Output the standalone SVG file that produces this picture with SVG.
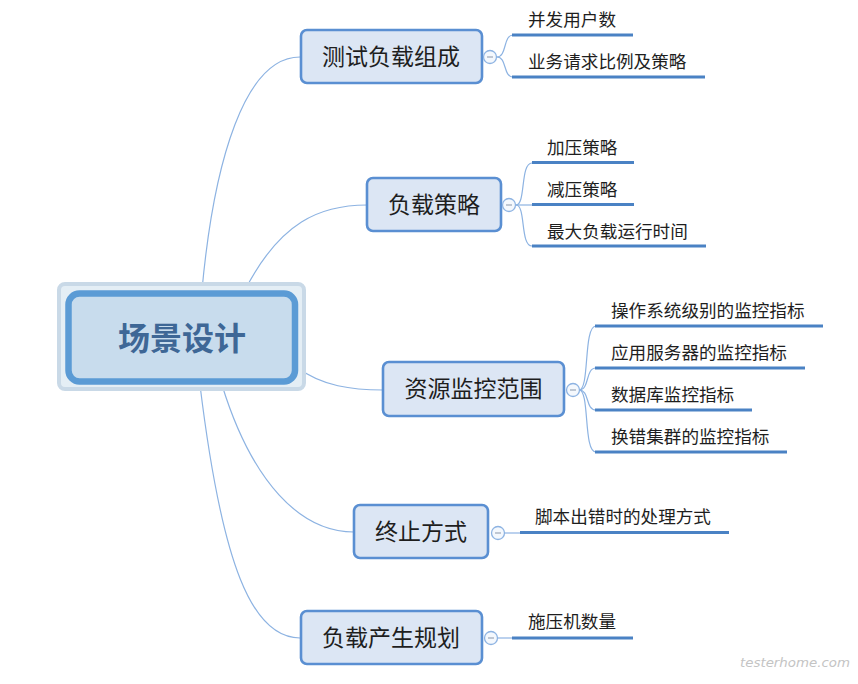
<svg xmlns="http://www.w3.org/2000/svg" width="858" height="684" viewBox="0 0 858 684">
<style>
.conn{fill:none;stroke:#8db3e2;stroke-width:1.2}
.sub{fill:none;stroke:#8db3e2;stroke-width:1.2}
.ul{stroke:#4a82c4;stroke-width:3.2;stroke-linecap:butt}
.box{fill:#dce6f4;stroke:#5a8fd2;stroke-width:2.6}
.bt{font-family:"Noto Sans CJK SC","Microsoft YaHei",sans-serif;font-size:23px;fill:#1e1e1e;text-anchor:middle}
.ct{font-family:"Noto Sans CJK SC","Microsoft YaHei",sans-serif;font-size:17.6px;fill:#1e1e1e}
.tog circle{fill:#f4f8fd;stroke:#8db3e2;stroke-width:1.3}
.tog line{stroke:#9aa7b8;stroke-width:1.2}
</style>
<rect width="858" height="684" fill="#ffffff"/>
<g id="connectors">
<path class="conn" d="M202,290 C214,160 245,57 300,57"/>
<path class="conn" d="M245,290 C280,222 320,205 367,205"/>
<path class="conn" d="M298,368 C322,386 352,390 383,390"/>
<path class="conn" d="M222,385 C252,482 300,532 354,532"/>
<path class="conn" d="M200,385 C222,565 252,638 300,638"/>
<path class="sub" d="M497,57 C507,57 503,35 513,35"/>
<path class="sub" d="M497,57 C507,57 503,77 513,77"/>
<path class="sub" d="M516,205 C526,205 520,163 532,163"/>
<path class="sub" d="M516,205 L532,205"/>
<path class="sub" d="M516,205 C526,205 520,246 532,246"/>
<path class="sub" d="M579,390 C590,390 583,326 596,326"/>
<path class="sub" d="M579,390 C590,390 585,368 596,368"/>
<path class="sub" d="M579,390 C590,390 585,410 596,410"/>
<path class="sub" d="M579,390 C590,390 583,452 596,452"/>
<path class="sub" d="M504,533 L520,533"/>
<path class="sub" d="M497,638 L512,638"/>
</g>
<g id="root">
<rect x="59" y="284" width="245" height="105" rx="6" fill="#e4eef5" stroke="#c9d9e7" stroke-width="4"/>
<rect x="68.5" y="293.5" width="226.5" height="88" rx="11" fill="#c8dced" stroke="#5b9bd5" stroke-width="6.5"/>
<text x="182" y="350" font-family="Noto Sans CJK SC,Microsoft YaHei,sans-serif" font-size="32" font-weight="bold" fill="#3e6796" text-anchor="middle">场景设计</text>
</g>
<g id="n1">
<rect class="box" x="301" y="30" width="181" height="53" rx="6"/>
<text class="bt" x="391" y="65">测试负载组成</text>
<g class="tog"><circle cx="490" cy="57" r="6.5"/><line x1="487" y1="57" x2="493" y2="57"/></g>
<text class="ct" x="528" y="26">并发用户数</text>
<line class="ul" x1="512" y1="35" x2="633" y2="35"/>
<text class="ct" x="528" y="68">业务请求比例及策略</text>
<line class="ul" x1="512" y1="77" x2="705" y2="77"/>
</g>
<g id="n2">
<rect class="box" x="367" y="178" width="134" height="53" rx="6"/>
<text class="bt" x="434" y="213">负载策略</text>
<g class="tog"><circle cx="509" cy="205" r="6.5"/><line x1="506" y1="205" x2="512" y2="205"/></g>
<text class="ct" x="547" y="154">加压策略</text>
<line class="ul" x1="532" y1="162.5" x2="634" y2="162.5"/>
<text class="ct" x="547" y="196">减压策略</text>
<line class="ul" x1="532" y1="204.5" x2="634" y2="204.5"/>
<text class="ct" x="547" y="238">最大负载运行时间</text>
<line class="ul" x1="532" y1="246" x2="706" y2="246"/>
</g>
<g id="n3">
<rect class="box" x="383" y="362" width="181" height="54" rx="6"/>
<text class="bt" x="473.5" y="397">资源监控范围</text>
<g class="tog"><circle cx="573" cy="390" r="6.5"/><line x1="570" y1="390" x2="576" y2="390"/></g>
<text class="ct" x="611" y="317">操作系统级别的监控指标</text>
<line class="ul" x1="595" y1="326" x2="823" y2="326"/>
<text class="ct" x="611" y="359">应用服务器的监控指标</text>
<line class="ul" x1="595" y1="368" x2="805" y2="368"/>
<text class="ct" x="611" y="401">数据库监控指标</text>
<line class="ul" x1="595" y1="410" x2="752" y2="410"/>
<text class="ct" x="611" y="443">换错集群的监控指标</text>
<line class="ul" x1="595" y1="452" x2="787" y2="452"/>
</g>
<g id="n4">
<rect class="box" x="354" y="505" width="134" height="53" rx="6"/>
<text class="bt" x="421" y="540">终止方式</text>
<g class="tog"><circle cx="498" cy="533" r="6.5"/><line x1="495" y1="533" x2="501" y2="533"/></g>
<text class="ct" x="535" y="523">脚本出错时的处理方式</text>
<line class="ul" x1="520" y1="532.5" x2="729" y2="532.5"/>
</g>
<g id="n5">
<rect class="box" x="301" y="611" width="181" height="53" rx="6"/>
<text class="bt" x="391" y="646">负载产生规划</text>
<g class="tog"><circle cx="491" cy="638" r="6.5"/><line x1="488" y1="638" x2="494" y2="638"/></g>
<text class="ct" x="528" y="628">施压机数量</text>
<line class="ul" x1="512" y1="638" x2="633" y2="638"/>
</g>
<text x="740" y="667" font-family="DejaVu Sans,sans-serif" font-size="13" font-style="italic" fill="#c4c4c4" textLength="110" lengthAdjust="spacingAndGlyphs">testerhome.com</text>
</svg>
